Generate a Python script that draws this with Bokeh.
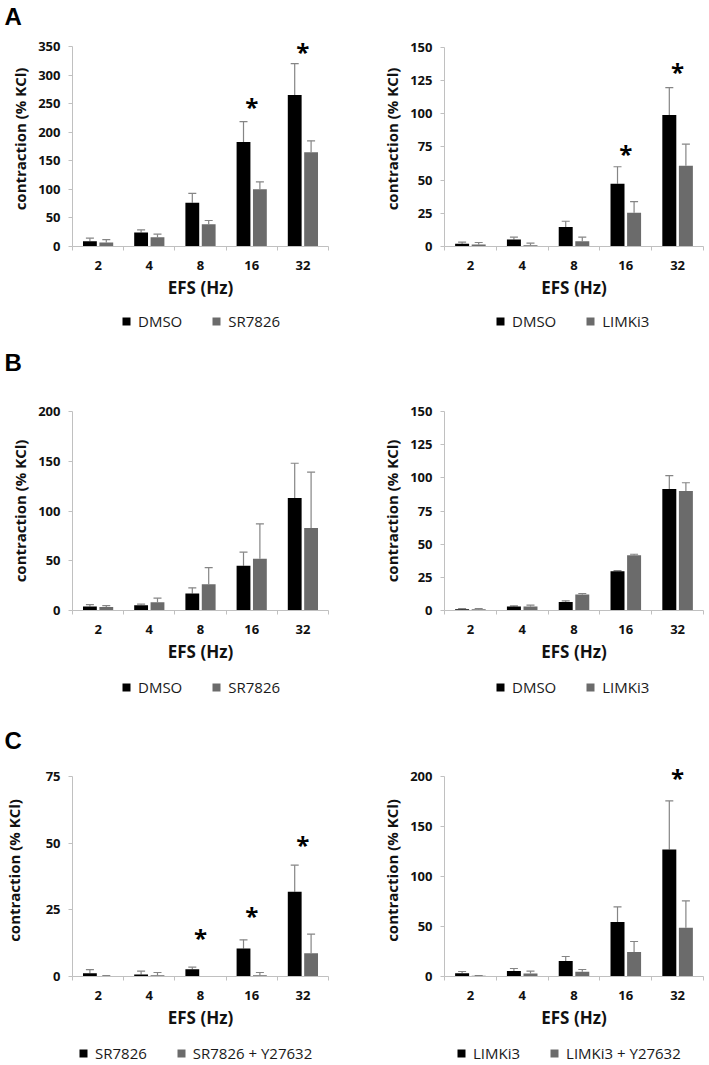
import numpy as np
from bokeh.plotting import figure
from bokeh.layouts import gridplot
from bokeh.models import (Range1d, FixedTicker, Legend, LegendItem, Whisker, TeeHead,
                          ColumnDataSource, LabelSet)
from bokeh.core.properties import value
from bokeh.embed import file_html
from bokeh.resources import INLINE

freqs = ["2", "4", "8", "16", "32"]

# ---- Panel A, left: DMSO vs SR7826
a1_labels = ["DMSO", "SR7826"]
a1_black = [9, 24.5, 76.5, 183, 265]
a1_black_err = [5.5, 4.5, 16.5, 35.5, 55]
a1_gray = [7, 16, 39, 100, 165]
a1_gray_err = [5, 5.5, 6.5, 13, 20]
a1_yticks = [0, 50, 100, 150, 200, 250, 300, 350]
a1_star_freq = ["16", "32"]
a1_star_y = [250, 347]

# ---- Panel A, right: DMSO vs LIMKi3
a2_labels = ["DMSO", "LIMKi3"]
a2_black = [2, 5.3, 14.6, 47.2, 99]
a2_black_err = [1.3, 1.7, 4.4, 12.8, 20.5]
a2_gray = [1.5, 1, 4, 25.4, 60.8]
a2_gray_err = [1.5, 1.5, 3, 8.3, 16.2]
a2_yticks = [0, 25, 50, 75, 100, 125, 150]
a2_star_freq = ["16", "32"]
a2_star_y = [72, 134]

# ---- Panel B, left: DMSO vs SR7826
b1_labels = ["DMSO", "SR7826"]
b1_black = [4, 5.4, 17, 45, 113]
b1_black_err = [2, 1, 5.8, 13.6, 35]
b1_gray = [3.4, 8.4, 26.5, 52, 83]
b1_gray_err = [1.6, 4, 16.5, 35, 56]
b1_yticks = [0, 50, 100, 150, 200]
b1_star_freq = []
b1_star_y = []

# ---- Panel B, right: DMSO vs LIMKi3
b2_labels = ["DMSO", "LIMKi3"]
b2_black = [1, 3, 6.5, 29.6, 91.5]
b2_black_err = [0.5, 0.5, 0.8, 0.5, 10.1]
b2_gray = [1, 3, 12, 41.6, 90]
b2_gray_err = [0.5, 1, 0.8, 0.8, 6.3]
b2_yticks = [0, 25, 50, 75, 100, 125, 150]
b2_star_freq = []
b2_star_y = []

# ---- Panel C, left: SR7826 vs SR7826 + Y27632
c1_labels = ["SR7826", "SR7826 + Y27632"]
c1_black = [1.25, 0.75, 2.75, 10.5, 31.75]
c1_black_err = [1.35, 1.25, 0.75, 3.25, 10]
c1_gray = [0.15, 0.5, 0, 0.5, 8.75]
c1_gray_err = [0.15, 1, 0, 1, 7.15]
c1_yticks = [0, 25, 50, 75]
c1_star_freq = ["8", "16", "32"]
c1_star_y = [15.6, 24, 50.5]

# ---- Panel C, right: LIMKi3 vs LIMKi3 + Y27632
c2_labels = ["LIMKi3", "LIMKi3 + Y27632"]
c2_black = [3.3, 5.4, 15.4, 54.5, 127]
c2_black_err = [1.7, 2.6, 4.6, 15.1, 48.6]
c2_gray = [0.7, 3, 4.7, 24.4, 48.8]
c2_gray_err = [0.3, 2.4, 2.3, 10.6, 26.8]
c2_yticks = [0, 50, 100, 150, 200]
c2_star_freq = ["32"]
c2_star_y = [202]

FONT = "Open Sans"
LETTER_FONT = "Liberation Sans"
BLACK = "#000000"
GRAY = "#6b6b6b"
ERR = "#858585"
AXIS = "#c0c0c0"
TXT = "#111111"


def style_letter(p, letter, valign="bottom"):
    p.title.text = letter
    p.title.text_font = LETTER_FONT
    p.title.text_font_size = "24px"
    p.title.text_font_style = "bold"
    p.title.text_color = BLACK
    p.title.align = "left"
    p.title.vertical_align = valign
    p.title.standoff = 0
    p.title.offset = -68


def panel(letter, black, black_err, gray, gray_err, yticks, star_freq, star_y,
          width, height, bl, br, bt, bb, y_end, ylab_standoff=5):
    n = len(freqs)
    pos = np.arange(1, n + 1)
    p = figure(width=width, height=height, x_range=Range1d(0.5, n + 0.5),
               y_range=Range1d(yticks[0], y_end), output_backend="svg",
               toolbar_location=None, min_border_left=bl, min_border_right=br,
               min_border_top=bt, min_border_bottom=bb)
    p.outline_line_color = None
    p.xgrid.visible = False
    p.ygrid.visible = False

    xb = pos - 0.16
    xg = pos + 0.16
    p.vbar(x=xb, top=black, width=0.27, fill_color=BLACK, line_color=None)
    p.vbar(x=xg, top=gray, width=0.27, fill_color=GRAY, line_color=None)

    for xs, v, e in ((xb, black, black_err), (xg, gray, gray_err)):
        keep = [i for i in range(n) if e[i] > 0]
        src = ColumnDataSource(dict(x=[float(xs[i]) for i in keep],
                                    lo=[v[i] for i in keep],
                                    hi=[v[i] + e[i] for i in keep]))
        w = Whisker(source=src, base="x", lower="lo", upper="hi", dimension="height",
                    line_color=ERR, line_width=1.2,
                    lower_head=TeeHead(size=1, line_alpha=0),
                    upper_head=TeeHead(size=8, line_color=ERR, line_width=1.2))
        p.add_layout(w)

    if star_freq:
        sx = [float(pos[freqs.index(f)]) for f in star_freq]
        ssrc = ColumnDataSource(dict(x=sx, y=star_y, t=["*"] * len(sx)))
        p.add_layout(LabelSet(source=ssrc, x="x", y="y", text="t", text_align="center",
                              text_baseline="middle", text_font=value(FONT),
                              text_font_size="24px", text_font_style="bold",
                              text_color=BLACK, y_offset=-3))

    xa = p.xaxis[0]
    xa.ticker = FixedTicker(ticks=[int(k) for k in pos],
                            minor_ticks=[float(k) - 0.5 for k in pos] + [n + 0.5])
    xa.major_label_overrides = {int(k): f for k, f in zip(pos, freqs)}
    xa.major_tick_line_color = None
    xa.major_tick_out = 0
    xa.major_tick_in = 0
    xa.minor_tick_line_color = AXIS
    xa.minor_tick_out = 4
    xa.minor_tick_in = 0
    xa.axis_line_color = AXIS
    xa.major_label_standoff = 10
    xa.major_label_text_font = FONT
    xa.major_label_text_font_size = "13px"
    xa.major_label_text_font_style = "bold"
    xa.major_label_text_color = TXT
    xa.axis_label = "EFS (Hz)"
    xa.axis_label_text_font = FONT
    xa.axis_label_text_font_size = "17px"
    xa.axis_label_text_font_style = "bold"
    xa.axis_label_text_color = TXT
    xa.axis_label_standoff = 3

    ya = p.yaxis[0]
    ya.ticker = FixedTicker(ticks=yticks)
    ya.bounds = (yticks[0], yticks[-1])
    ya.minor_tick_line_color = None
    ya.major_tick_out = 4
    ya.major_tick_in = 0
    ya.major_tick_line_color = AXIS
    ya.axis_line_color = AXIS
    ya.major_label_standoff = 8
    ya.major_label_text_font = FONT
    ya.major_label_text_font_size = "13px"
    ya.major_label_text_font_style = "bold"
    ya.major_label_text_color = TXT
    ya.axis_label = "contraction (% KCl)"
    ya.axis_label_text_font = FONT
    ya.axis_label_text_font_size = "15px"
    ya.axis_label_text_font_style = "bold"
    ya.axis_label_text_color = TXT
    ya.axis_label_standoff = ylab_standoff

    if letter:
        style_letter(p, letter, valign="top")
    return p


def legend_panel(labels, width, height, bl, br, bb, loc, letter=None):
    p = figure(width=width, height=height, x_range=Range1d(0, 1), y_range=Range1d(0, 1),
               x_axis_type=None, y_axis_type=None, output_backend="svg",
               toolbar_location=None, min_border_left=bl, min_border_right=br,
               min_border_top=0, min_border_bottom=bb, title_location="below")
    p.outline_line_color = None
    p.grid.visible = False
    # legend keys only: one dummy bar each, placed outside the visible range
    rb = p.vbar(x=[-5], top=[0], width=0.27, fill_color=BLACK, line_color=None)
    rg = p.vbar(x=[-5], top=[0], width=0.27, fill_color=GRAY, line_color=None)
    leg = Legend(items=[LegendItem(label=value(labels[0]), renderers=[rb]),
                        LegendItem(label=value(labels[1]), renderers=[rg])],
                 orientation="horizontal", location=loc,
                 border_line_color=None, background_fill_alpha=0,
                 label_text_font=FONT, label_text_font_size="15px",
                 label_text_color="#1a1a1a", glyph_width=10, glyph_height=10,
                 label_height=16, label_standoff=7, spacing=29, padding=0,
                 margin=0)
    p.add_layout(leg, "center")
    if letter:
        style_letter(p, letter)
    return p


W1, W2 = 354, 355
BL1, BR1, BL2, BR2 = 69, 26, 90, 6

# row A plots: frame 31..246
pA1 = panel("A", a1_black, a1_black_err, a1_gray, a1_gray_err, a1_yticks,
            a1_star_freq, a1_star_y, W1, 302, BL1, BR1, 31, 56, 376.25)
pA2 = panel(None, a2_black, a2_black_err, a2_gray, a2_gray_err, a2_yticks,
            a2_star_freq, a2_star_y, W2, 302, BL2, BR2, 31, 56, 161.8)
# legend row A (+ letter B below it)
lA1 = legend_panel(a1_labels, W1, 75, BL1, BR1, 31, (49, 15), letter="B")
lA2 = legend_panel(a2_labels, W2, 75, BL2, BR2, 31, (51, 15))

# row B plots: frame 411..610
pB1 = panel(None, b1_black, b1_black_err, b1_gray, b1_gray_err, b1_yticks,
            b1_star_freq, b1_star_y, W1, 289, BL1, BR1, 34, 56, 200)
pB2 = panel(None, b2_black, b2_black_err, b2_gray, b2_gray_err, b2_yticks,
            b2_star_freq, b2_star_y, W2, 289, BL2, BR2, 34, 56, 150)
# legend row B (+ letter C below it)
lB1 = legend_panel(b1_labels, W1, 89, BL1, BR1, 31, (49, 27), letter="C")
lB2 = legend_panel(b2_labels, W2, 89, BL2, BR2, 31, (51, 27))

# row C plots: frame 764..976
pC1 = panel(None, c1_black, c1_black_err, c1_gray, c1_gray_err, c1_yticks,
            c1_star_freq, c1_star_y, W1, 277, BL1, BR1, 9, 56, 79.5, ylab_standoff=19)
pC2 = panel(None, c2_black, c2_black_err, c2_gray, c2_gray_err, c2_yticks,
            c2_star_freq, c2_star_y, W2, 277, BL2, BR2, 9, 56, 212)
lC1 = legend_panel(c1_labels, W1, 33, BL1, BR1, 0, (6, 2))
lC2 = legend_panel(c2_labels, W2, 33, BL2, BR2, 0, (12, 2))

grid = gridplot([[pA1, pA2], [lA1, lA2], [pB1, pB2], [lB1, lB2],
                 [pC1, pC2], [lC1, lC2]], toolbar_location=None)

open("out.html", "w").write(file_html(grid, INLINE))
